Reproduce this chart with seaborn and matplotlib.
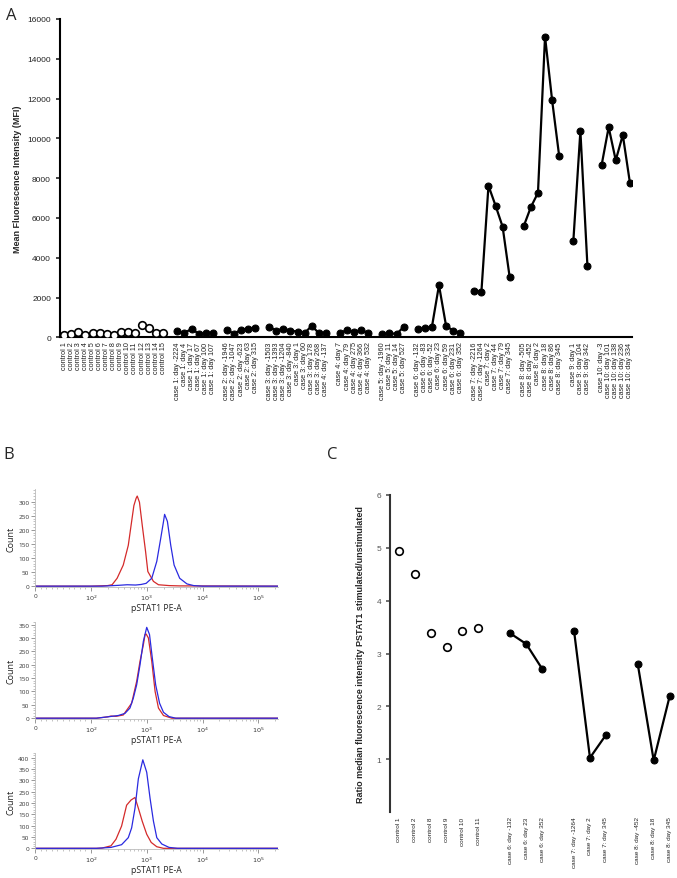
import numpy as np
import pandas as pd
import matplotlib
matplotlib.use("Agg")
import matplotlib.pyplot as plt
import seaborn as sns
from matplotlib.ticker import FixedLocator, MultipleLocator

sns.set_theme(style="ticks")
plt.rcParams['font.family'] = ['Liberation Sans', 'DejaVu Sans']

# ---------------- Panel A data ----------------
control_labels = ["control 1", "control 2", "control 3", "control 4", "control 5",
                  "control 6", "control 7", "control 8", "control 9", "control 10",
                  "control 11", "control 12", "control 13", "control 14", "control 15"]
control_mfi = [130, 180, 250, 130, 230, 230, 170, 130, 290, 250, 220, 620, 450, 220, 220]

case1_labels = ["case 1: day -2224", "case 1: day 4", "case 1: day 17", "case 1: day 67",
                "case 1: day 100", "case 1: day 107"]
case1_mfi = [300, 220, 420, 185, 200, 220]
case2_labels = ["case 2: day -1946", "case 2: day -1047", "case 2: day -623",
                "case 2: day 63", "case 2: day 315"]
case2_mfi = [386, 170, 386, 437, 487]
case3_labels = ["case 3: day -1503", "case 3: day -1393", "case 3: day -1204",
                "case 3: day -840", "case 3: day 1", "case 3: day 60", "case 3: day 178",
                "case 3: day 268", "case 4: day -137"]
case3_mfi = [520, 336, 437, 336, 286, 218, 571, 218, 200]
case4_labels = ["case 4: day 7", "case 4: day 79", "case 4: day 275", "case 4: day 366",
                "case 4: day 532"]
case4_mfi = [218, 370, 280, 365, 215]
case5_labels = ["case 5: day -1960", "case 5: day 11", "case 5: day 14", "case 5: day 527"]
case5_mfi = [150, 220, 160, 520]
case6_labels = ["case 6: day -132", "case 6: day -83", "case 6: day -52", "case 6: day 23",
                "case 6: day 59", "case 6: day 231", "case 6: day 352"]
case6_mfi = [420, 460, 520, 2620, 580, 330, 240]
case7_labels = ["case 7: day -2216", "case 7: day -1264", "case 7: day 2", "case 7: day 44",
                "case 7: day 79", "case 7: day 345"]
case7_mfi = [2350, 2280, 7620, 6620, 5560, 3020]
case8_labels = ["case 8: day -505", "case 8: day -452", "case 8: day 2", "case 8: day 18",
                "case 8: day 86", "case 8: day 345"]
case8_mfi = [5600, 6550, 7260, 15120, 11920, 9110]
case9_labels = ["case 9: day 1", "case 9: day 104", "case 9: day 342"]
case9_mfi = [4820, 10370, 3560]
case10_labels = ["case 10: day -3", "case 10: day 101", "case 10: day 138",
                 "case 10: day 236", "case 10: day 334"]
case10_mfi = [8650, 10560, 8900, 10170, 7780]

case_groups_A = [(case1_labels, case1_mfi), (case2_labels, case2_mfi), (case3_labels, case3_mfi),
                 (case4_labels, case4_mfi), (case5_labels, case5_mfi), (case6_labels, case6_mfi),
                 (case7_labels, case7_mfi), (case8_labels, case8_mfi), (case9_labels, case9_mfi),
                 (case10_labels, case10_mfi)]

# ---------------- Panel B data (histograms, x in log10 display units) ----------------
b1_red_x = [1.0, 2.0, 2.30, 2.38, 2.47, 2.58, 2.67, 2.72, 2.77, 2.81, 2.83, 2.87, 2.92, 2.98,
            3.02, 3.12, 3.21, 3.40, 3.58, 5.35]
b1_red_y = [0, 0, 2, 5, 28, 75, 145, 216, 286, 312, 320, 298, 216, 122, 52, 17, 5, 2, 1, 0]
b1_blue_x = [1.0, 2.2, 2.5, 2.65, 2.8, 2.9, 2.99, 3.09, 3.18, 3.25, 3.30, 3.32, 3.37, 3.43,
             3.49, 3.59, 3.72, 3.84, 4.0, 5.35]
b1_blue_y = [0, 0, 3, 5, 4, 6, 10, 28, 88, 169, 229, 255, 230, 145, 75, 28, 8, 2, 0, 0]

b2_red_x = [1.0, 2.1, 2.30, 2.36, 2.45, 2.58, 2.73, 2.82, 2.88, 2.94, 2.97, 2.99, 3.03, 3.09,
            3.15, 3.21, 3.30, 3.45, 5.35]
b2_red_y = [0, 0, 5, 8, 7, 12, 56, 138, 213, 275, 313, 315, 300, 213, 100, 38, 10, 0, 0]
b2_blue_x = [1.0, 2.1, 2.30, 2.49, 2.61, 2.70, 2.76, 2.82, 2.88, 2.94, 3.0, 3.05, 3.10, 3.16,
             3.23, 3.30, 3.40, 3.52, 5.35]
b2_blue_y = [0, 0, 5, 10, 18, 38, 75, 125, 200, 288, 340, 313, 225, 125, 56, 22, 6, 0, 0]

b3_red_x = [1.0, 2.1, 2.20, 2.36, 2.45, 2.55, 2.64, 2.72, 2.79, 2.85, 2.92, 3.0, 3.08, 3.18,
            3.30, 5.35]
b3_red_y = [0, 0, 1, 11, 40, 98, 190, 213, 224, 177, 119, 62, 26, 7, 0, 0]
b3_blue_x = [1.0, 2.1, 2.36, 2.55, 2.67, 2.73, 2.79, 2.85, 2.93, 3.0, 3.06, 3.12, 3.18, 3.27,
             3.40, 3.55, 5.35]
b3_blue_y = [0, 0, 4, 16, 47, 90, 177, 306, 390, 335, 220, 120, 47, 19, 4, 0, 0]

b_panels = [(b1_red_x, b1_red_y, b1_blue_x, b1_blue_y, 345, 300),
            (b2_red_x, b2_red_y, b2_blue_x, b2_blue_y, 360, 350),
            (b3_red_x, b3_red_y, b3_blue_x, b3_blue_y, 420, 400)]
b_tick_pos = [1, 2, 3, 4, 5]
b_tick_labels = ["0", "$10^2$", "$10^3$", "$10^4$", "$10^5$"]

# ---------------- Panel C data ----------------
c_control_labels = ["control 1", "control 2", "control 8", "control 9", "control 10", "control 11"]
c_control_ratio = [4.93, 4.50, 3.39, 3.13, 3.43, 3.48]
c_case6_labels = ["case 6: day -132", "case 6: day 23", "case 6: day 352"]
c_case6_ratio = [3.38, 3.18, 2.71]
c_case7_labels = ["case 7: day -1264", "case 7: day 2", "case 7: day 345"]
c_case7_ratio = [3.43, 1.03, 1.46]
c_case8_labels = ["case 8: day -452", "case 8: day 18", "case 8: day 345"]
c_case8_ratio = [2.80, 0.98, 2.19]
case_groups_C = [(c_case6_labels, c_case6_ratio), (c_case7_labels, c_case7_ratio),
                 (c_case8_labels, c_case8_ratio)]


def build(controls, ctrl_vals, groups):
    ctrl = pd.DataFrame({"pos": np.arange(len(controls)), "val": ctrl_vals, "label": controls})
    pos = len(controls) + 1
    rows = []
    for gi, (labs, vals) in enumerate(groups):
        for lab, v in zip(labs, vals):
            rows.append({"pos": pos, "val": v, "label": lab, "group": gi})
            pos += 1
        pos += 1
    return ctrl, pd.DataFrame(rows)


W, H = 677, 879
fig = plt.figure(figsize=(W / 100, H / 100), dpi=100)

# ---------------- Panel A ----------------
axA = fig.add_axes([60 / W, 1 - 338.3 / H, 572 / W, 318.3 / H])
ctrlA, casesA = build(control_labels, control_mfi, case_groups_A)
sns.lineplot(data=casesA, x="pos", y="val", units="group", estimator=None, sort=False,
             color="black", lw=1.6, marker="o", markersize=5, markeredgecolor="black",
             markerfacecolor="black", ax=axA, legend=False)
sns.scatterplot(data=ctrlA, x="pos", y="val", ax=axA, s=30, facecolor="white",
                edgecolor="black", linewidth=1.2, zorder=3, legend=False)
axA.set_xlim(-0.6, 80.3)
axA.set_ylim(0, 16000)
axA.set_yticks(np.arange(0, 16001, 2000))
alllab = pd.concat([ctrlA[["pos", "label"]], casesA[["pos", "label"]]])
axA.set_xticks(alllab["pos"].values)
axA.set_xticklabels(alllab["label"].values, rotation=90, fontsize=5.2)
axA.tick_params(axis="x", length=0, pad=3, colors="#222222")
axA.tick_params(axis="y", labelsize=6, length=3, width=1.2, colors="#222222")
axA.set_xlabel("")
axA.set_ylabel("Mean Fluorescence Intensity (MFI)", fontsize=6.5, fontweight="bold", labelpad=4)
for s in ["top", "right"]:
    axA.spines[s].set_visible(False)
for s in ["left", "bottom"]:
    axA.spines[s].set_linewidth(1.5)
    axA.spines[s].set_color("black")
fig.text(6 / W, 1 - 20 / H, "A", fontsize=12, family="Open Sans")

# ---------------- Panel B ----------------
b_boxes = [(490, 588), (623, 720), (754, 850)]
for (top, bot), (rx, ry, bx, by, ymax, ytop) in zip(b_boxes, b_panels):
    ax = fig.add_axes([35 / W, 1 - bot / H, 243 / W, (bot - top) / H])
    sns.lineplot(x=rx, y=ry, ax=ax, color="#d42a2a", lw=0.9, sort=False, estimator=None)
    sns.lineplot(x=bx, y=by, ax=ax, color="#2a2ae0", lw=0.9, sort=False, estimator=None)
    ax.set_xlim(1, 5.35)
    ax.set_ylim(-3, ymax)
    ax.set_xticks(b_tick_pos)
    ax.set_xticklabels(b_tick_labels, family="Open Sans")
    minor = list(np.arange(1.1, 2.0, 0.1))
    for d in [2, 3, 4, 5]:
        for k in range(2, 10):
            v = d + np.log10(k)
            if v < 5.35:
                minor.append(v)
    ax.xaxis.set_minor_locator(FixedLocator(minor))
    ax.set_yticks(np.arange(0, ytop + 1, 50))
    ax.yaxis.set_minor_locator(MultipleLocator(10))
    for lab in ax.get_yticklabels():
        lab.set_family("Open Sans")
    ax.tick_params(axis="both", which="major", labelsize=4.6, length=3, width=0.6,
                   color="#888888", labelcolor="#333333", pad=1.0)
    ax.tick_params(axis="both", which="minor", length=1.5, width=0.5, color="#aaaaaa")
    ax.set_ylabel("Count", fontsize=6.5, family="Open Sans", color="#222222", labelpad=2)
    ax.set_xlabel("pSTAT1 PE-A", fontsize=6.2, family="Open Sans", color="#222222",
                  va="center")
    ax.xaxis.set_label_coords(0.5, -21 / (bot - top))
    for s in ["top", "right"]:
        ax.spines[s].set_visible(False)
    for s in ["left", "bottom"]:
        ax.spines[s].set_color("#bbbbbb")
        ax.spines[s].set_linewidth(0.6)
fig.text(3 / W, 1 - 459 / H, "B", fontsize=12, family="Open Sans")

# ---------------- Panel C ----------------
axC = fig.add_axes([390 / W, 1 - 813.3 / H, 286 / W, 317.6 / H])
ctrlC, casesC = build(c_control_labels, c_control_ratio, case_groups_C)
sns.lineplot(data=casesC, x="pos", y="val", units="group", estimator=None, sort=False,
             color="black", lw=1.6, marker="o", markersize=5, markeredgecolor="black",
             markerfacecolor="black", ax=axC, legend=False)
sns.scatterplot(data=ctrlC, x="pos", y="val", ax=axC, s=30, facecolor="white",
                edgecolor="black", linewidth=1.2, zorder=3, legend=False)
axC.set_xlim(-0.55, 17.4)
axC.set_ylim(0, 6)
axC.set_yticks([1, 2, 3, 4, 5, 6])
allC = pd.concat([ctrlC[["pos", "label"]], casesC[["pos", "label"]]])
axC.set_xticks(allC["pos"].values)
axC.set_xticklabels(allC["label"].values, rotation=90, fontsize=4.6)
axC.tick_params(axis="x", length=0, pad=3, colors="#222222")
axC.tick_params(axis="y", labelsize=6, length=3, width=1.2, colors="#555555")
axC.set_xlabel("")
axC.set_ylabel("Ratio median fluorescence intensity PSTAT1 stimulated/unstimulated",
               fontsize=6.5, fontweight="bold", labelpad=8)
for s in ["top", "right", "bottom"]:
    axC.spines[s].set_visible(False)
axC.spines["left"].set_linewidth(1.5)
axC.spines["left"].set_color("#333333")
fig.text(327 / W, 1 - 459 / H, "C", fontsize=12, family="Open Sans")

fig.savefig("out.png", dpi=100)
